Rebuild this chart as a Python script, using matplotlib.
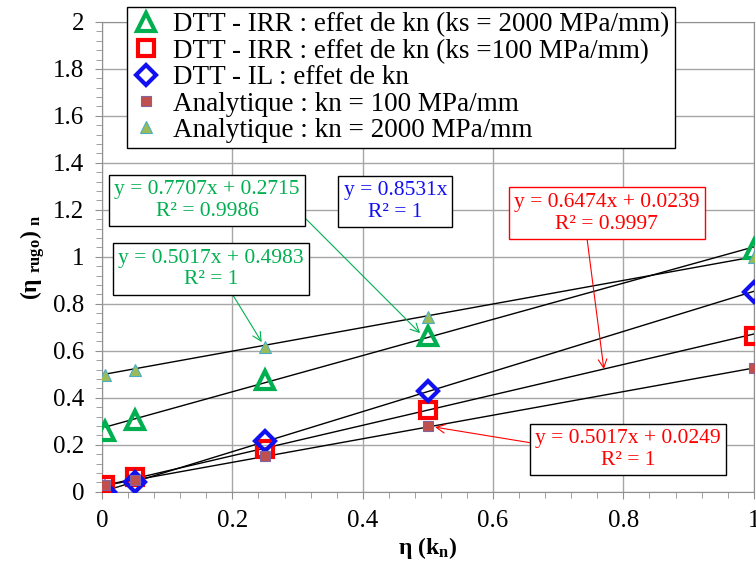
import matplotlib
matplotlib.use('Agg')
import matplotlib.pyplot as plt
import numpy as np
from matplotlib.ticker import MultipleLocator

plt.rcParams['font.family'] = ['Liberation Serif', 'DejaVu Serif']
plt.rcParams['mathtext.fontset'] = 'custom'
plt.rcParams['mathtext.rm'] = 'Liberation Serif'
plt.rcParams['mathtext.bf'] = 'Liberation Serif:bold'
plt.rcParams['mathtext.it'] = 'Liberation Serif:italic'

# data
eta = [0.005, 0.05, 0.25, 0.5, 1.0]
irr_ks2000 = [0.26, 0.305, 0.475, 0.662, 1.035]
irr_ks100 = [0.03, 0.062, 0.183, 0.35, 0.665]
il = [0.0, 0.043, 0.218, 0.43, 0.85]
ana_kn100 = [0.027, 0.05, 0.151, 0.279, 0.526]
ana_kn2000 = [0.497, 0.518, 0.617, 0.745, 1.0]

# trendline equations shown on the chart (slope, intercept, R2)
fit_irr2000 = (0.7707, 0.2715, '0.9986')
fit_irr100 = (0.6474, 0.0239, '0.9997')
fit_il = (0.8531, 0.0, '1')
fit_ana100 = (0.5017, 0.0249, '1')
fit_ana2000 = (0.5017, 0.4983, '1')

labels = ['DTT - IRR : effet de kn (ks = 2000 MPa/mm)',
          'DTT - IRR : effet de kn (ks =100 MPa/mm)',
          'DTT - IL : effet de kn',
          'Analytique : kn = 100 MPa/mm',
          'Analytique : kn = 2000 MPa/mm']

xticks = [0, 0.2, 0.4, 0.6, 0.8, 1.0]
xticklabels = ['0', '0.2', '0.4', '0.6', '0.8', '1']
yticks = [0, 0.2, 0.4, 0.6, 0.8, 1.0, 1.2, 1.4, 1.6, 1.8, 2.0]
yticklabels = ['0', '0.2', '0.4', '0.6', '0.8', '1', '1.2', '1.4', '1.6', '1.8', '2']

green = '#00B050'
red = '#FF0000'
blue = '#1010F0'

fig = plt.figure(figsize=(7.56, 5.62), dpi=100)
ax = fig.add_axes([0.135, 0.125, 0.862, 0.836])

# trendlines
xl = np.array([eta[0], eta[-1]])
for f in [fit_irr2000, fit_irr100, fit_il, fit_ana100, fit_ana2000]:
    ax.plot(xl, f[0] * xl + f[1], color='black', lw=1, zorder=2)

ax.plot(eta, irr_ks2000, ls='none', marker='^', ms=13, mfc='none', mec=green, mew=3, label=labels[0], zorder=3)
ax.plot(eta, irr_ks100, ls='none', marker='s', ms=12, mfc='none', mec=red, mew=3, label=labels[1], zorder=3)
ax.plot(eta, il, ls='none', marker='D', ms=10, mfc='none', mec=blue, mew=3, label=labels[2], zorder=4)
ax.plot(eta, ana_kn100, ls='none', marker='s', ms=7, mfc='#C0504D', mec='#8064A2', mew=0.8, label=labels[3], zorder=5)
ax.plot(eta, ana_kn2000, ls='none', marker='^', ms=8, mfc='#9BBB59', mec='#4BACC6', mew=0.8, label=labels[4], zorder=5)

ax.set_xlim(0, 1)
ax.set_ylim(0, 2)
ax.set_xticks(xticks)
ax.set_xticklabels(xticklabels)
ax.set_yticks(yticks)
ax.set_yticklabels(yticklabels)
ax.xaxis.set_minor_locator(MultipleLocator(0.04))
ax.yaxis.set_minor_locator(MultipleLocator(0.04))
ax.tick_params(which='major', labelsize=18, length=5, color='#909090', pad=8)
ax.tick_params(which='minor', length=4, color='#909090')
ax.grid(True, which='major', color='#A6A6A6', lw=1)
for s in ax.spines.values():
    s.set_color('#909090')

ax.set_xlabel(r'η (k$_{\mathbf{n}}$)', fontsize=17, fontweight='bold', labelpad=2)
ax.set_ylabel(r'(η $_{\mathbf{rugo}}$) $_{\mathbf{n}}$', fontsize=17, fontweight='bold', labelpad=4)

leg = ax.legend(loc='upper left', bbox_to_anchor=(127 / 756, 1 - 7 / 562), bbox_transform=fig.transFigure,
                fontsize=19.5, frameon=True, fancybox=False, edgecolor='black', framealpha=1,
                handlelength=1.0, handletextpad=0.5, labelspacing=0.05, borderpad=0.2, borderaxespad=0)
leg.get_frame().set_linewidth(1)
leg.set_zorder(10)


def eq(f):
    if f[1] == 0:
        return 'y = %.4fx\nR² = %s' % (f[0], f[2])
    return 'y = %.4fx + %.4f\nR² = %s' % (f[0], f[1], f[2])


box = dict(boxstyle='square,pad=0.25', fc='white', ec='black', lw=1)
fs = 15.5
ax.annotate(eq(fit_irr2000), xy=(0.488, 0.675), xytext=(0.161, 0.620), textcoords='axes fraction',
            ha='center', va='center', fontsize=fs, color=green, bbox=box, zorder=6,
            arrowprops=dict(arrowstyle='->', color=green, lw=0.8, relpos=(1, 0.2), shrinkA=0, shrinkB=0))
ax.annotate(eq(fit_ana2000), xy=(0.245, 0.637), xytext=(0.167, 0.474), textcoords='axes fraction',
            ha='center', va='center', fontsize=fs, color=green, bbox=box, zorder=6,
            arrowprops=dict(arrowstyle='->', color=green, lw=0.8, relpos=(0.6, 0), shrinkA=0, shrinkB=0))
ax.annotate(eq(fit_il), xy=(0.45, 0.618), xycoords='axes fraction',
            ha='center', va='center', fontsize=fs, color=blue, bbox=box, zorder=6)
ax.annotate(eq(fit_irr100), xy=(0.770, 0.522), xytext=(0.7745, 0.593), textcoords='axes fraction',
            ha='center', va='center', fontsize=fs, color=red, zorder=6,
            bbox=dict(boxstyle='square,pad=0.25', fc='white', ec=red, lw=1),
            arrowprops=dict(arrowstyle='->', color=red, lw=0.8, relpos=(0.39, 0), shrinkA=0, shrinkB=0))
ax.annotate(eq(fit_ana100), xy=(0.511, 0.275), xytext=(0.8075, 0.0895), textcoords='axes fraction',
            ha='center', va='center', fontsize=fs, color=red, bbox=box, zorder=6,
            arrowprops=dict(arrowstyle='->', color=red, lw=0.8, relpos=(0, 0.65), shrinkA=0, shrinkB=0))

fig.savefig('out.png', dpi=100)
